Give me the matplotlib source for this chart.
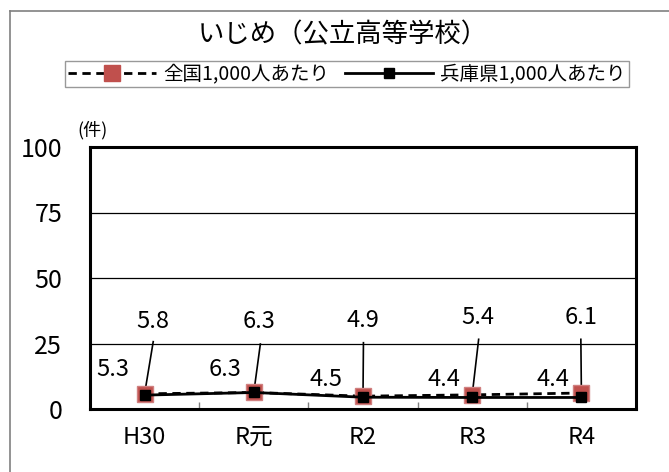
import matplotlib.pyplot as plt
from matplotlib.lines import Line2D

plt.rcParams['font.family'] = ['Noto Sans CJK JP', 'DejaVu Sans']

# data
categories = ['H30', 'R元', 'R2', 'R3', 'R4']
national = [5.8, 6.3, 4.9, 5.4, 6.1]
hyogo = [5.3, 6.3, 4.5, 4.4, 4.4]
y_ticks = [0, 25, 50, 75, 100]

# label placement (data units)
nat_label_xy = [(0.073, 33.3), (1.048, 33.3), (1.998, 33.6), (3.05, 35.1), (3.995, 35.0)]
nat_leader_top = [(0.079, 25.7), (1.06, 24.8), (2.004, 25.3), (3.059, 26.6), (3.995, 26.6)]
hyo_label_xy = [(-0.287, 15.1), (0.734, 14.9), (1.664, 11.1), (2.745, 11.1), (3.735, 11.1)]

fig = plt.figure(figsize=(6.69, 4.72), dpi=100)
ax = fig.add_axes([90/669, 1-409/472, (636-90)/669, (409-147)/472])

x = list(range(len(categories)))

# leader lines for national labels
for (lx, ly), xi, v in zip(nat_leader_top, x, national):
    ax.plot([lx, xi], [ly, v], color='black', lw=1.2, zorder=2)

ax.plot(x, national, color='black', ls=(0, (3, 2)), lw=2, marker='s', ms=11,
        mfc='#c0504d', mec='#d08080', zorder=3)
ax.plot(x, hyogo, color='black', ls='-', lw=2, marker='s', ms=7,
        mfc='black', mec='black', zorder=4)

for (lx, ly), v in zip(nat_label_xy, national):
    ax.text(lx, ly, f'{v:.1f}', ha='center', va='center', fontsize=17)
for (lx, ly), v in zip(hyo_label_xy, hyogo):
    ax.text(lx, ly, f'{v:.1f}', ha='center', va='center', fontsize=17)

ax.set_xlim(-0.5, len(categories) - 0.5)
ax.set_ylim(0, 100)
ax.set_yticks(y_ticks)
ax.set_yticklabels([str(t) for t in y_ticks], fontsize=18)
ax.tick_params(axis='y', length=0, pad=20)
ax.set_xticks(x)
ax.set_xticklabels(categories, fontsize=17)
ax.tick_params(axis='x', length=0, pad=12)
ax.set_xticks([i + 0.5 for i in range(len(categories) - 1)], minor=True)
ax.tick_params(axis='x', which='minor', direction='in', length=5, color='#808080', width=1)
for t in [25, 50, 75]:
    ax.axhline(t, color='black', lw=0.9, zorder=1)
for s in ax.spines.values():
    s.set_linewidth(2.2)
    s.set_color('black')

fig.text(108/669, 1-130/472, '(件)', fontsize=13, ha='right', va='center')
fig.text(343/669, 1-35/472, 'いじめ（公立高等学校）', fontsize=19, ha='center', va='center')

handles = [
    Line2D([], [], color='black', ls=(0, (3, 2)), lw=2, marker='s', ms=11,
           mfc='#c0504d', mec='#c0504d'),
    Line2D([], [], color='black', ls='-', lw=2, marker='s', ms=7,
           mfc='black', mec='black'),
]
leg = fig.legend(handles, ['全国1,000人あたり', '兵庫県1,000人あたり'], ncol=2,
                 loc='center', bbox_to_anchor=(347/669, 1-74/472), fontsize=14,
                 frameon=True, fancybox=False, edgecolor='#808080',
                 handlelength=4.5, columnspacing=0.8, borderpad=0.15,
                 handletextpad=0.4, borderaxespad=0)
leg.get_frame().set_linewidth(1)

# outer border (top and left only visible)
fig.add_artist(Line2D([10/669, 1], [1-11/472, 1-11/472], color='#808080', lw=1.2))
fig.add_artist(Line2D([10/669, 10/669], [0, 1-11/472], color='#808080', lw=1.2))

fig.savefig('out.png', dpi=100)
